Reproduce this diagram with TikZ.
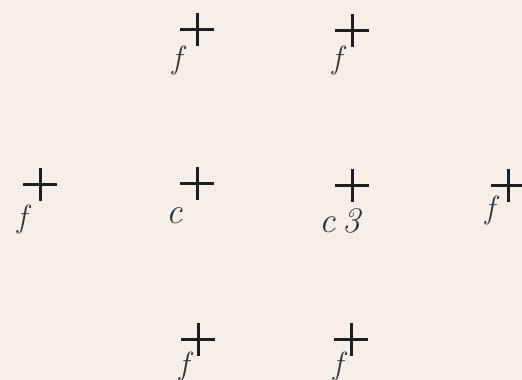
\documentclass[tikz,border=0pt]{standalone}
\definecolor{paper}{HTML}{F6EFE9}
\definecolor{ink}{HTML}{1E1E1E}
\definecolor{pencil}{HTML}{333333}
\tikzset{
  crossline/.style={draw=ink, line width=3pt, line cap=butt},
  pics/cross/.style={code={
    \draw[crossline] (-17,0) -- (17,0);
    \draw[crossline] (0,-16) -- (0,17);
  }},
  hand/.style={text=pencil, inner sep=0pt, font=\fontsize{32}{36}\selectfont\itshape},
  handc/.style={hand, font=\fontsize{36}{40}\selectfont\itshape}
}
\begin{document}
\begin{tikzpicture}[x=1pt, y=-1pt]
  \fill[paper] (0,0) rectangle (522,380);
  \useasboundingbox (0,0) rectangle (522,380);
  % cross centres
  \coordinate (t1) at (197,29);
  \coordinate (t2) at (352,30);
  \coordinate (m1) at (40,184);
  \coordinate (m2) at (197,183);
  \coordinate (m3) at (352,185);
  \coordinate (m4) at (508,185);
  \coordinate (b1) at (198,339);
  \coordinate (b2) at (351,339);
  \begin{scope}
    \clip (0,0) rectangle (522,380);
    \foreach \p in {t1,t2,m1,m2,m3,m4,b1,b2} { \pic at (\p) {cross}; }
  \end{scope}
  % labels
  \node[hand] (lt1) at (177,60) {f};
  \node[hand] (lt2) at (337,60) {f};
  \node[hand] (lm1) at (22,219) {f};
  \node[handc] (lm2) at (175,216) {c};
  \node[handc] (lm3) at (340,221) {c\,3};
  \node[hand] (lm4) at (490,210) {f};
  \node[hand] (lb1) at (184,366) {f};
  \node[hand] (lb2) at (338,366) {f};
\end{tikzpicture}
\end{document}
